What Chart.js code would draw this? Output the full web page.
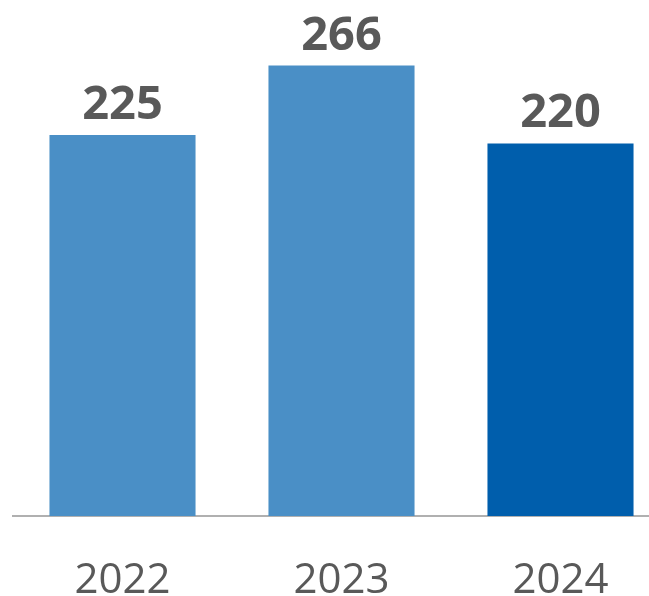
<!DOCTYPE html>
<html>
<head>
<meta charset="utf-8">
<script src="https://cdn.jsdelivr.net/npm/chart.js@4.4.1/dist/chart.umd.min.js"></script>
<style>
  html, body { margin: 0; padding: 0; background: #fff; overflow: hidden; }
  #wrap { width: 670px; height: 596px; }
</style>
</head>
<body>
<div id="wrap"><canvas id="myChart" width="670" height="596"></canvas></div>
<script>
var years = ['2022', '2023', '2024'];
var totals = [225, 266, 220];
var barColors = ['#4a8fc6', '#4a8fc6', '#005eac'];

// prints the value above every bar
var valueLabels = {
  id: 'valueLabels',
  afterDatasetsDraw: function(chart) {
    var ctx = chart.ctx;
    var meta = chart.getDatasetMeta(0);
    ctx.save();
    ctx.font = 'bold 47px "Open Sans", sans-serif';
    ctx.fillStyle = '#595959';
    ctx.textAlign = 'center';
    ctx.textBaseline = 'alphabetic';
    meta.data.forEach(function(bar, i) {
      ctx.fillText(totals[i], bar.x, bar.y - 16);
    });
    ctx.restore();
  }
};

function createChart(targetid) {
  var ctx = document.getElementById(targetid);
  return new Chart(ctx, {
    type: 'bar',
    data: {
      labels: years,
      datasets: [{
        data: totals,
        backgroundColor: barColors,
        borderWidth: 0,
        barPercentage: 0.667,
        categoryPercentage: 1
      }]
    },
    options: {
      responsive: false,
      animation: false,
      layout: { padding: { left: 13, right: 0, top: 8, bottom: 0 } },
      plugins: { legend: { display: false }, tooltip: { enabled: false } },
      scales: {
        y: { display: false, min: 0, max: 300 },
        x: {
          grid: { display: false },
          border: { display: true, color: '#b0b0b0', width: 2 },
          ticks: {
            color: '#595959',
            padding: 32,
            font: { family: '"Open Sans", sans-serif', size: 42 }
          },
          afterFit: function(scale) { scale.height = 80; }
        }
      }
    },
    plugins: [valueLabels]
  });
}

createChart('myChart');
</script>
</body>
</html>
